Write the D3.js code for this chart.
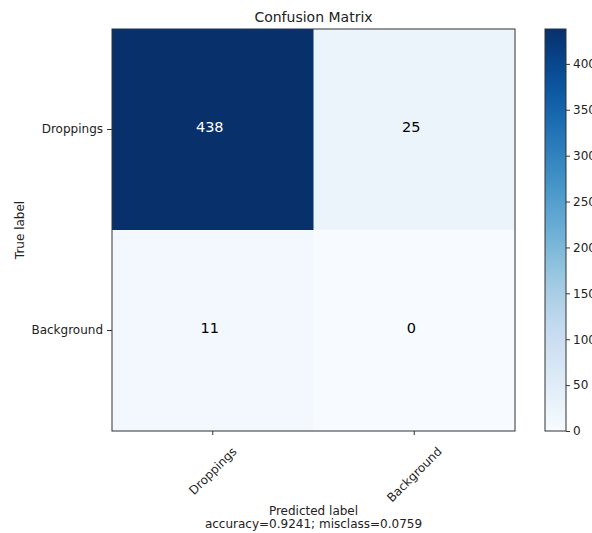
<!DOCTYPE html>
<html>
<head>
<meta charset="utf-8">
<script src="https://cdn.jsdelivr.net/npm/d3@7"></script>
<style>
  html, body { margin: 0; padding: 0; background: #fff; }
  svg { display: block; font-family: "DejaVu Sans", sans-serif; }
</style>
</head>
<body>
<svg id="chart" width="592" height="533"></svg>
<script>
// Class names and confusion counts (rows = true label, cols = predicted label)
const trueLabels = ["Droppings", "Background"];
const predLabels = ["Droppings", "Background"];
const rowDroppings = [438, 25];
const rowBackground = [11, 0];
const counts = [rowDroppings, rowBackground];
const colorbarTicks = [0, 50, 100, 150, 200, 250, 300, 350, 400];
const accuracy = 0.9241;
const misclass = 0.0759;

const svg = d3.select("#chart");
const plot = { left: 112, top: 29, right: 515, bottom: 431 };
const FONT = "DejaVu Sans, sans-serif";
const INK = "#222";

// Blues colormap (ColorBrewer stops, linear segments)
const bluesStops = ["#f7fbff", "#deebf7", "#c6dbef", "#9ecae1", "#6baed6",
                    "#4292c6", "#2171b5", "#08519c", "#08306b"];
const vmax = d3.max(counts.flat());
const color = d3.scaleLinear()
  .domain(bluesStops.map((_, i) => i / (bluesStops.length - 1) * vmax))
  .range(bluesStops)
  .interpolate(d3.interpolateRgb)
  .clamp(true);

const x = d3.scaleBand().domain(predLabels).range([plot.left, plot.right]);
const y = d3.scaleBand().domain(trueLabels).range([plot.top, plot.bottom]);

const cells = [];
counts.forEach((row, i) => row.forEach((v, j) => cells.push({ t: trueLabels[i], p: predLabels[j], v })));

svg.append("g").selectAll("rect").data(cells).join("rect")
  .attr("x", d => x(d.p)).attr("y", d => y(d.t))
  .attr("width", x.bandwidth() + 0.5).attr("height", y.bandwidth() + 0.5)
  .attr("fill", d => color(d.v));

// count annotations: white on dark cells, black on light cells
const thresh = vmax / 2;
svg.append("g").selectAll("text").data(cells).join("text")
  .attr("x", d => x(d.p) + x.bandwidth() / 2 - 3)
  .attr("y", d => y(d.t) + y.bandwidth() / 2 - 3)
  .attr("text-anchor", "middle").attr("dominant-baseline", "central")
  .attr("font-size", 14.5)
  .attr("fill", d => d.v > thresh ? "#ffffff" : "#000000")
  .text(d => d.v);

// frame
svg.append("rect")
  .attr("x", plot.left).attr("y", plot.top)
  .attr("width", plot.right - plot.left).attr("height", plot.bottom - plot.top)
  .attr("fill", "none").attr("stroke", "#333").attr("stroke-width", 1);

// x axis: labels rotated 45° about their centres, hanging below the ticks
const xAxis = svg.append("g").attr("transform", `translate(0,${plot.bottom})`)
  .call(d3.axisBottom(x).tickSize(4).tickPadding(4));
xAxis.select(".domain").remove();
xAxis.selectAll("line").attr("stroke", "#333");
xAxis.selectAll("text")
  .attr("font-size", 12).attr("fill", INK).attr("font-family", FONT)
  .attr("text-anchor", "middle").attr("dy", "0.35em").attr("y", 0)
  .each(function () {
    const w = this.getComputedTextLength();
    const h = 12;
    const cy = 14 + (w + h) * Math.SQRT1_2 / 2;
    d3.select(this).attr("transform", `translate(0,${cy}) rotate(-45)`);
  });

const yAxis = svg.append("g").attr("transform", `translate(${plot.left},0)`)
  .call(d3.axisLeft(y).tickSize(5).tickPadding(4));
yAxis.select(".domain").remove();
yAxis.selectAll("line").attr("stroke", "#333");
yAxis.selectAll("text")
  .attr("font-size", 12).attr("fill", INK).attr("font-family", FONT);

// titles
svg.append("text").attr("x", (plot.left + plot.right) / 2).attr("y", 22)
  .attr("text-anchor", "middle").attr("font-size", 14).attr("fill", INK)
  .text("Confusion Matrix");

svg.append("text")
  .attr("transform", `translate(24,${(plot.top + plot.bottom) / 2}) rotate(-90)`)
  .attr("text-anchor", "middle").attr("font-size", 12).attr("fill", INK)
  .text("True label");

svg.append("text").attr("x", (plot.left + plot.right) / 2).attr("y", 515)
  .attr("text-anchor", "middle").attr("font-size", 12).attr("fill", INK)
  .text("Predicted label");
svg.append("text").attr("x", (plot.left + plot.right) / 2).attr("y", 528)
  .attr("text-anchor", "middle").attr("font-size", 12).attr("fill", INK)
  .text(`accuracy=${accuracy.toFixed(4)}; misclass=${misclass.toFixed(4)}`);

// colorbar
const cb = { left: 545, right: 566 };
const cbScale = d3.scaleLinear().domain([0, vmax]).range([plot.bottom, plot.top]);
const defs = svg.append("defs");
const grad = defs.append("linearGradient").attr("id", "cbgrad")
  .attr("x1", 0).attr("y1", 1).attr("x2", 0).attr("y2", 0);
d3.range(0, 1.0001, 0.05).forEach(t => {
  grad.append("stop").attr("offset", t).attr("stop-color", color(t * vmax));
});
svg.append("rect").attr("x", cb.left).attr("y", plot.top)
  .attr("width", cb.right - cb.left).attr("height", plot.bottom - plot.top)
  .attr("fill", "url(#cbgrad)").attr("stroke", "#333").attr("stroke-width", 1);

const cbAxis = svg.append("g").attr("transform", `translate(${cb.right},0)`)
  .call(d3.axisRight(cbScale).tickValues(colorbarTicks).tickSize(4).tickPadding(3));
cbAxis.select(".domain").remove();
cbAxis.selectAll("line").attr("stroke", "#333");
cbAxis.selectAll("text")
  .attr("font-size", 12).attr("fill", INK).attr("font-family", FONT);
</script>
</body>
</html>
